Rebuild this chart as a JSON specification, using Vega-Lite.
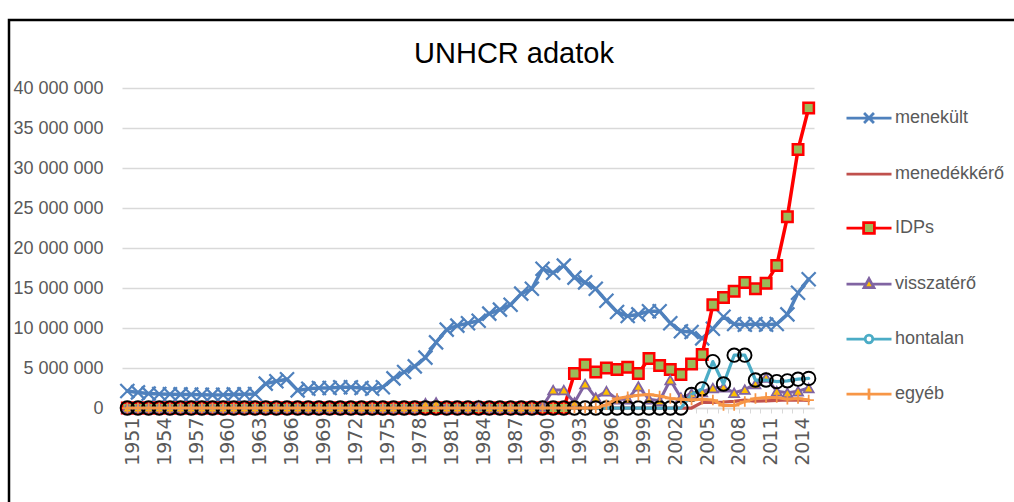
{
  "$schema": "https://vega.github.io/schema/vega-lite/v6.json",
  "width": 1010,
  "height": 488,
  "autosize": {"type": "none"},
  "padding": {"left": 9, "top": 20, "right": -5, "bottom": -6},
  "background": "white",
  "title": {"text": "UNHCR adatok", "font": "Liberation Sans", "fontSize": 29, "fontWeight": "normal", "color": "#000000", "anchor": "middle", "frame": "group", "baseline": "alphabetic", "offset": -72},
  "config": {"view": {"stroke": "#000000", "strokeWidth": 2.5}, "font": "Liberation Sans"},
  "data": {"values": [
    {"év": 1951, "menekült": 2120000, "menedékkérő": 0, "IDPs": 0, "visszatérő": 0, "hontalan": 0, "egyéb": 0},
    {"év": 1952, "menekült": 1950000, "menedékkérő": 0, "IDPs": 0, "visszatérő": 0, "hontalan": 0, "egyéb": 0},
    {"év": 1953, "menekült": 1800000, "menedékkérő": 0, "IDPs": 0, "visszatérő": 0, "hontalan": 0, "egyéb": 0},
    {"év": 1954, "menekült": 1750000, "menedékkérő": 0, "IDPs": 0, "visszatérő": 0, "hontalan": 0, "egyéb": 0},
    {"év": 1955, "menekült": 1720000, "menedékkérő": 0, "IDPs": 0, "visszatérő": 0, "hontalan": 0, "egyéb": 0},
    {"év": 1956, "menekült": 1700000, "menedékkérő": 0, "IDPs": 0, "visszatérő": 0, "hontalan": 0, "egyéb": 0},
    {"év": 1957, "menekült": 1680000, "menedékkérő": 0, "IDPs": 0, "visszatérő": 0, "hontalan": 0, "egyéb": 0},
    {"év": 1958, "menekült": 1660000, "menedékkérő": 0, "IDPs": 0, "visszatérő": 0, "hontalan": 0, "egyéb": 0},
    {"év": 1959, "menekült": 1640000, "menedékkérő": 0, "IDPs": 0, "visszatérő": 0, "hontalan": 0, "egyéb": 0},
    {"év": 1960, "menekült": 1650000, "menedékkérő": 0, "IDPs": 0, "visszatérő": 0, "hontalan": 0, "egyéb": 0},
    {"év": 1961, "menekült": 1700000, "menedékkérő": 0, "IDPs": 0, "visszatérő": 0, "hontalan": 0, "egyéb": 0},
    {"év": 1962, "menekült": 1720000, "menedékkérő": 0, "IDPs": 0, "visszatérő": 0, "hontalan": 0, "egyéb": 0},
    {"év": 1963, "menekült": 1750000, "menedékkérő": 0, "IDPs": 0, "visszatérő": 0, "hontalan": 0, "egyéb": 0},
    {"év": 1964, "menekült": 3050000, "menedékkérő": 0, "IDPs": 0, "visszatérő": 0, "hontalan": 0, "egyéb": 0},
    {"év": 1965, "menekült": 3350000, "menedékkérő": 0, "IDPs": 0, "visszatérő": 0, "hontalan": 0, "egyéb": 0},
    {"év": 1966, "menekült": 3600000, "menedékkérő": 0, "IDPs": 0, "visszatérő": 0, "hontalan": 0, "egyéb": 0},
    {"év": 1967, "menekült": 2200000, "menedékkérő": 0, "IDPs": 0, "visszatérő": 0, "hontalan": 0, "egyéb": 0},
    {"év": 1968, "menekült": 2400000, "menedékkérő": 0, "IDPs": 0, "visszatérő": 0, "hontalan": 0, "egyéb": 0},
    {"év": 1969, "menekült": 2500000, "menedékkérő": 0, "IDPs": 0, "visszatérő": 0, "hontalan": 0, "egyéb": 0},
    {"év": 1970, "menekült": 2500000, "menedékkérő": 0, "IDPs": 0, "visszatérő": 0, "hontalan": 0, "egyéb": 0},
    {"év": 1971, "menekült": 2600000, "menedékkérő": 0, "IDPs": 0, "visszatérő": 0, "hontalan": 0, "egyéb": 0},
    {"év": 1972, "menekült": 2600000, "menedékkérő": 0, "IDPs": 0, "visszatérő": 0, "hontalan": 0, "egyéb": 0},
    {"év": 1973, "menekült": 2500000, "menedékkérő": 0, "IDPs": 0, "visszatérő": 0, "hontalan": 0, "egyéb": 0},
    {"év": 1974, "menekült": 2400000, "menedékkérő": 0, "IDPs": 0, "visszatérő": 0, "hontalan": 0, "egyéb": 0},
    {"év": 1975, "menekült": 2600000, "menedékkérő": 0, "IDPs": 0, "visszatérő": 0, "hontalan": 0, "egyéb": 0},
    {"év": 1976, "menekült": 3700000, "menedékkérő": 0, "IDPs": 0, "visszatérő": 0, "hontalan": 0, "egyéb": 0},
    {"év": 1977, "menekült": 4500000, "menedékkérő": 0, "IDPs": 0, "visszatérő": 0, "hontalan": 0, "egyéb": 0},
    {"év": 1978, "menekült": 5200000, "menedékkérő": 0, "IDPs": 0, "visszatérő": 0, "hontalan": 0, "egyéb": 0},
    {"év": 1979, "menekült": 6300000, "menedékkérő": 0, "IDPs": 0, "visszatérő": 600000, "hontalan": 0, "egyéb": 0},
    {"év": 1980, "menekült": 8200000, "menedékkérő": 0, "IDPs": 0, "visszatérő": 700000, "hontalan": 0, "egyéb": 0},
    {"év": 1981, "menekült": 9800000, "menedékkérő": 0, "IDPs": 0, "visszatérő": 0, "hontalan": 0, "egyéb": 0},
    {"év": 1982, "menekült": 10300000, "menedékkérő": 0, "IDPs": 0, "visszatérő": 0, "hontalan": 0, "egyéb": 0},
    {"év": 1983, "menekült": 10600000, "menedékkérő": 0, "IDPs": 0, "visszatérő": 0, "hontalan": 0, "egyéb": 0},
    {"év": 1984, "menekült": 10900000, "menedékkérő": 0, "IDPs": 0, "visszatérő": 300000, "hontalan": 0, "egyéb": 0},
    {"év": 1985, "menekült": 11800000, "menedékkérő": 0, "IDPs": 0, "visszatérő": 0, "hontalan": 0, "egyéb": 0},
    {"év": 1986, "menekült": 12300000, "menedékkérő": 0, "IDPs": 0, "visszatérő": 0, "hontalan": 0, "egyéb": 0},
    {"év": 1987, "menekült": 12900000, "menedékkérő": 0, "IDPs": 0, "visszatérő": 0, "hontalan": 0, "egyéb": 0},
    {"év": 1988, "menekült": 14300000, "menedékkérő": 0, "IDPs": 0, "visszatérő": 0, "hontalan": 0, "egyéb": 0},
    {"év": 1989, "menekült": 14900000, "menedékkérő": 0, "IDPs": 0, "visszatérő": 0, "hontalan": 0, "egyéb": 0},
    {"év": 1990, "menekült": 17400000, "menedékkérő": 0, "IDPs": 0, "visszatérő": 200000, "hontalan": 0, "egyéb": 0},
    {"év": 1991, "menekült": 16900000, "menedékkérő": 0, "IDPs": 0, "visszatérő": 2250000, "hontalan": 0, "egyéb": 0},
    {"év": 1992, "menekült": 17800000, "menedékkérő": 0, "IDPs": 0, "visszatérő": 2250000, "hontalan": 0, "egyéb": 0},
    {"év": 1993, "menekült": 16300000, "menedékkérő": 0, "IDPs": 4300000, "visszatérő": 700000, "hontalan": 0, "egyéb": 0},
    {"év": 1994, "menekült": 15700000, "menedékkérő": 0, "IDPs": 5400000, "visszatérő": 3000000, "hontalan": 0, "egyéb": 0},
    {"év": 1995, "menekült": 14900000, "menedékkérő": 0, "IDPs": 4500000, "visszatérő": 1300000, "hontalan": 0, "egyéb": 0},
    {"év": 1996, "menekült": 13400000, "menedékkérő": 0, "IDPs": 5000000, "visszatérő": 2100000, "hontalan": 0, "egyéb": 400000},
    {"év": 1997, "menekült": 12000000, "menedékkérő": 0, "IDPs": 4800000, "visszatérő": 1100000, "hontalan": 0, "egyéb": 1200000},
    {"év": 1998, "menekült": 11500000, "menedékkérő": 0, "IDPs": 5100000, "visszatérő": 1100000, "hontalan": 0, "egyéb": 1400000},
    {"év": 1999, "menekült": 11700000, "menedékkérő": 0, "IDPs": 4300000, "visszatérő": 2700000, "hontalan": 0, "egyéb": 1600000},
    {"év": 2000, "menekült": 12100000, "menedékkérő": 0, "IDPs": 6200000, "visszatérő": 1100000, "hontalan": 0, "egyéb": 1700000},
    {"év": 2001, "menekült": 12100000, "menedékkérő": 0, "IDPs": 5300000, "visszatérő": 900000, "hontalan": 0, "egyéb": 1500000},
    {"év": 2002, "menekült": 10600000, "menedékkérő": 0, "IDPs": 4800000, "visszatérő": 3500000, "hontalan": 0, "egyéb": 1200000},
    {"év": 2003, "menekült": 9600000, "menedékkérő": 0, "IDPs": 4200000, "visszatérő": 1300000, "hontalan": 0, "egyéb": 1100000},
    {"év": 2004, "menekült": 9500000, "menedékkérő": 0, "IDPs": 5500000, "visszatérő": 1800000, "hontalan": 1700000, "egyéb": 1000000},
    {"év": 2005, "menekült": 8700000, "menedékkérő": 700000, "IDPs": 6700000, "visszatérő": 2000000, "hontalan": 2400000, "egyéb": 1100000},
    {"év": 2006, "menekült": 9900000, "menedékkérő": 700000, "IDPs": 12900000, "visszatérő": 2500000, "hontalan": 5800000, "egyéb": 1000000},
    {"év": 2007, "menekült": 11400000, "menedékkérő": 750000, "IDPs": 13800000, "visszatérő": 2600000, "hontalan": 3000000, "egyéb": 300000},
    {"év": 2008, "menekült": 10500000, "menedékkérő": 830000, "IDPs": 14600000, "visszatérő": 1900000, "hontalan": 6600000, "egyéb": 300000},
    {"év": 2009, "menekült": 10400000, "menedékkérő": 980000, "IDPs": 15700000, "visszatérő": 2300000, "hontalan": 6600000, "egyéb": 800000},
    {"év": 2010, "menekült": 10500000, "menedékkérő": 850000, "IDPs": 14900000, "visszatérő": 3000000, "hontalan": 3500000, "egyéb": 1200000},
    {"év": 2011, "menekült": 10400000, "menedékkérő": 900000, "IDPs": 15600000, "visszatérő": 3800000, "hontalan": 3500000, "egyéb": 1300000},
    {"év": 2012, "menekült": 10500000, "menedékkérő": 940000, "IDPs": 17800000, "visszatérő": 2100000, "hontalan": 3300000, "egyéb": 1300000},
    {"év": 2013, "menekült": 11700000, "menedékkérő": 1000000, "IDPs": 23900000, "visszatérő": 1900000, "hontalan": 3400000, "egyéb": 1100000},
    {"év": 2014, "menekült": 14400000, "menedékkérő": 1000000, "IDPs": 32300000, "visszatérő": 2100000, "hontalan": 3600000, "egyéb": 1200000},
    {"év": 2015, "menekült": 16100000, "menedékkérő": 950000, "IDPs": 37500000, "visszatérő": 2500000, "hontalan": 3700000, "egyéb": 1000000}
  ]},
  "transform": [{"fold": ["menekült", "menedékkérő", "IDPs", "visszatérő", "hontalan", "egyéb"], "as": ["sorozat", "érték"]}],
  "encoding": {
    "x": {"field": "év", "type": "ordinal", "bandPosition": 0.5,
      "scale": {"type": "band", "range": [113, 805], "paddingInner": 0, "paddingOuter": 0},
      "axis": {"orient": "bottom", "offset": -100, "bandPosition": 0, "title": null, "grid": false,
        "domainColor": "#D9D9D9", "domainWidth": 1.5, "tickColor": "#D9D9D9", "tickSize": 5, "tickWidth": 1,
        "labelAngle": -90, "labelOffset": 5.3, "labelPadding": 4, "labelOverlap": false,
        "labelExpr": "(datum.value - 1951) % 3 === 0 ? datum.label : ''",
        "labelFont": "DejaVu Sans", "labelFontSize": 19, "labelColor": "#595959"}},
    "y": {"field": "érték", "type": "quantitative",
      "scale": {"domain": [0, 40000000], "range": [388, 68], "nice": false, "zero": true},
      "axis": {"orient": "left", "offset": -113, "title": null, "domain": false, "ticks": false, "tickSize": 0,
        "grid": true, "gridColor": "#D9D9D9", "gridWidth": 1.5,
        "values": [0, 5000000, 10000000, 15000000, 20000000, 25000000, 30000000, 35000000, 40000000],
        "labelExpr": "replace(replace(format(datum.value, ','), ',', ' '), ',', ' ')",
        "labelFont": "Liberation Sans", "labelFontSize": 18, "labelColor": "#595959", "labelPadding": 19}}
  },
  "layer": [
    {"transform": [{"filter": {"field": "sorozat", "equal": "menekült"}}],
     "mark": {"type": "line", "color": "#4F81BD", "strokeWidth": 3.5, "strokeJoin": "round", "strokeCap": "round"}},
    {"transform": [{"filter": {"field": "sorozat", "equal": "menekült"}}],
     "mark": {"type": "point", "shape": "M-1,-1L1,1M-1,1L1,-1", "size": 196, "filled": false, "stroke": "#4F81BD", "strokeWidth": 2.25, "opacity": 1}},
    {"transform": [{"filter": {"field": "sorozat", "equal": "menedékkérő"}}],
     "mark": {"type": "line", "color": "#C0504D", "strokeWidth": 3.25, "strokeJoin": "round", "strokeCap": "round"}},
    {"transform": [{"filter": {"field": "sorozat", "equal": "IDPs"}}],
     "mark": {"type": "line", "color": "#FF0000", "strokeWidth": 3.5, "strokeJoin": "round", "strokeCap": "round"}},
    {"transform": [{"filter": {"field": "sorozat", "equal": "IDPs"}}],
     "mark": {"type": "point", "shape": "square", "size": 110, "filled": true, "fill": "#9BBB59", "stroke": "#FF0000", "strokeWidth": 2.5, "opacity": 1}},
    {"transform": [{"filter": {"field": "sorozat", "equal": "visszatérő"}}],
     "mark": {"type": "line", "color": "#8064A2", "strokeWidth": 3, "strokeJoin": "round", "strokeCap": "round"}},
    {"transform": [{"filter": {"field": "sorozat", "equal": "visszatérő"}}],
     "mark": {"type": "point", "shape": "triangle-up", "size": 100, "filled": true, "fill": "#FFC000", "stroke": "#8064A2", "strokeWidth": 1.75, "opacity": 1}},
    {"transform": [{"filter": {"field": "sorozat", "equal": "hontalan"}}],
     "mark": {"type": "line", "color": "#4BACC6", "strokeWidth": 3.25, "strokeJoin": "round", "strokeCap": "round"}},
    {"transform": [{"filter": {"field": "sorozat", "equal": "hontalan"}}],
     "mark": {"type": "point", "shape": "circle", "size": 180, "filled": false, "stroke": "#000000", "strokeWidth": 1.9, "opacity": 1}},
    {"transform": [{"filter": {"field": "sorozat", "equal": "egyéb"}}],
     "mark": {"type": "line", "color": "#F79646", "strokeWidth": 3, "strokeJoin": "round", "strokeCap": "round"}},
    {"transform": [{"filter": {"field": "sorozat", "equal": "egyéb"}}],
     "mark": {"type": "point", "shape": "M-1,0H1M0,-1V1", "size": 110, "filled": false, "stroke": "#F79646", "strokeWidth": 1.75, "opacity": 1}},
    {"transform": [{"filter": {"field": "év", "equal": 2015}}],
     "mark": {"type": "point", "opacity": 0, "filled": true},
     "encoding": {
       "shape": {"field": "sorozat", "type": "nominal",
         "scale": {"domain": ["menekült", "menedékkérő", "IDPs", "visszatérő", "hontalan", "egyéb"],
           "range": ["M-1,0H1M-0.22,-0.22L0.22,0.22M-0.22,0.22L0.22,-0.22", "M-1,0H1", "M-1,0H-0.24M0.24,0H1M-0.24,-0.24H0.24V0.24H-0.24Z", "M-1,0H-0.12M0.12,0H1M0,-0.24L0.22,0.16H-0.22Z", "M-1,0H-0.17M0.17,0H1M0.17,0A0.17,0.17 0 1,1 -0.17,0A0.17,0.17 0 1,1 0.17,0Z", "M-1,0H1M0,-0.25V0.25"]},
         "legend": {"orient": "none", "legendX": 836, "legendY": 74, "title": null, "padding": 0,
           "labelFont": "Liberation Sans", "labelFontSize": 18, "labelColor": "#595959", "labelOffset": 2,
           "symbolSize": 2025, "symbolStrokeWidth": 2.75, "symbolOpacity": 1, "rowPadding": 21}},
       "fill": {"field": "sorozat", "type": "nominal",
         "scale": {"domain": ["menekült", "menedékkérő", "IDPs", "visszatérő", "hontalan", "egyéb"],
           "range": ["transparent", "transparent", "#9BBB59", "#FFC000", "#FFFFFF", "transparent"]},
         "legend": {"orient": "none", "legendX": 836, "legendY": 74, "title": null, "padding": 0,
           "labelFont": "Liberation Sans", "labelFontSize": 18, "labelColor": "#595959", "labelOffset": 2,
           "symbolSize": 2025, "symbolStrokeWidth": 2.75, "symbolOpacity": 1, "rowPadding": 21}},
       "stroke": {"field": "sorozat", "type": "nominal",
         "scale": {"domain": ["menekült", "menedékkérő", "IDPs", "visszatérő", "hontalan", "egyéb"],
           "range": ["#4F81BD", "#C0504D", "#FF0000", "#8064A2", "#4BACC6", "#F79646"]},
         "legend": {"orient": "none", "legendX": 836, "legendY": 74, "title": null, "padding": 0,
           "labelFont": "Liberation Sans", "labelFontSize": 18, "labelColor": "#595959", "labelOffset": 2,
           "symbolSize": 2025, "symbolStrokeWidth": 2.75, "symbolOpacity": 1, "rowPadding": 21}}
     }}
  ]
}
